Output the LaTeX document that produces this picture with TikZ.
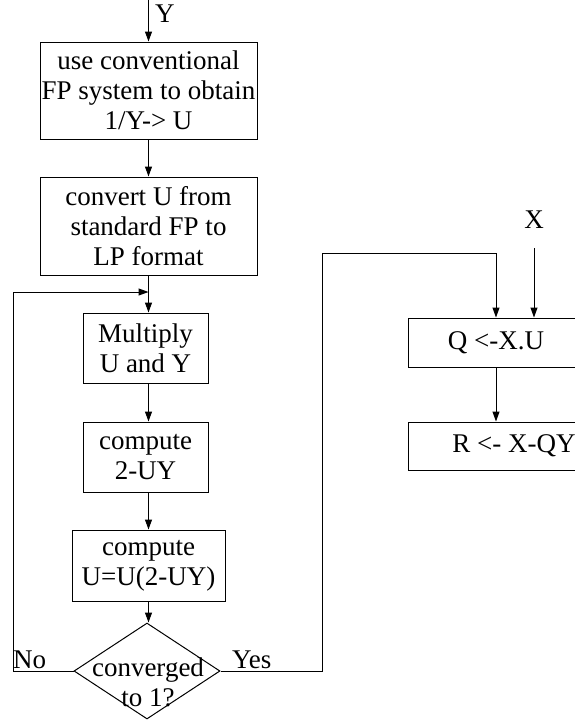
\documentclass[tikz,border=0pt]{standalone}
\usepackage{fontspec}
\setmainfont{Liberation Serif}
\usetikzlibrary{shapes.geometric,arrows.meta}
\begin{document}
\begin{tikzpicture}[x=1pt,y=-1pt,
  box/.style={draw,line width=1pt,rectangle,inner sep=0pt,align=center,font=\fontsize{27}{30}\selectfont},
  dec/.style={draw,line width=1pt,diamond,inner sep=0pt},
  lbl/.style={inner sep=0pt,font=\fontsize{27}{30}\selectfont},
  arr/.style={line width=1pt,-{Triangle[length=10pt,width=7pt]}}]
\useasboundingbox (0,0) rectangle (575,721);
\node[box,minimum width=217pt,minimum height=97pt] (b1) at (148.5,90.5) {use conventional\\FP system to obtain\\1/Y-> U};
\node[box,minimum width=217pt,minimum height=98pt] (b2) at (148.5,226) {convert U from\\standard FP to\\LP format};
\node[box,minimum width=125pt,minimum height=70pt] (b3) at (145.5,348) {Multiply\\U and Y};
\node[box,minimum width=125pt,minimum height=70pt] (b4) at (145.5,457) {compute\\2-UY};
\node[box,minimum width=153pt,minimum height=71pt] (b5) at (148.5,565.5) {compute\\U=U(2-UY)};
\node[dec,minimum width=146pt,minimum height=96pt] (d) at (147,671) {};
\node[lbl,align=center] (dt) at (148,682) {converged\\to 1?};
\node[box,minimum width=176pt,minimum height=49pt] (q) at (496,342.5) {Q <-X.U};
\node[box,minimum width=176pt,minimum height=48pt] (r) at (496,446) {\hspace*{36pt}R <- X-QY};
\node[lbl,anchor=base west] (ylab) at (155,22) {Y};
\node[lbl] (xlab) at (534,220) {X};
\node[lbl,anchor=base west] (no) at (13,668) {No};
\node[lbl,anchor=base west] (yes) at (232,668) {Yes};
\coordinate (yin) at (148.5,0);
\coordinate (j) at (148.5,292);
\coordinate (lc) at (13,292);
\coordinate (c2) at (322,253);
\coordinate (xin) at (534,248);
\draw[arr] (yin) -- (yin |- b1.north);
\draw[arr] (b1.south) -- (b2.north);
\draw[arr] (b2.south) -- (b2.south |- b3.north);
\draw[arr] (d.west) -| (lc) -- (j);
\draw[arr] (b3.south -| j) -- (b4.north -| j);
\draw[arr] (b4.south -| j) -- (b5.north -| j);
\draw[arr] (b5.south -| j) -- (j |- d.north);
\draw[arr] (d.east) -| (c2) -| (q.north);
\draw[arr] (xin) -- (xin |- q.north);
\draw[arr] (q.south) -- (r.north);
\end{tikzpicture}
\end{document}
